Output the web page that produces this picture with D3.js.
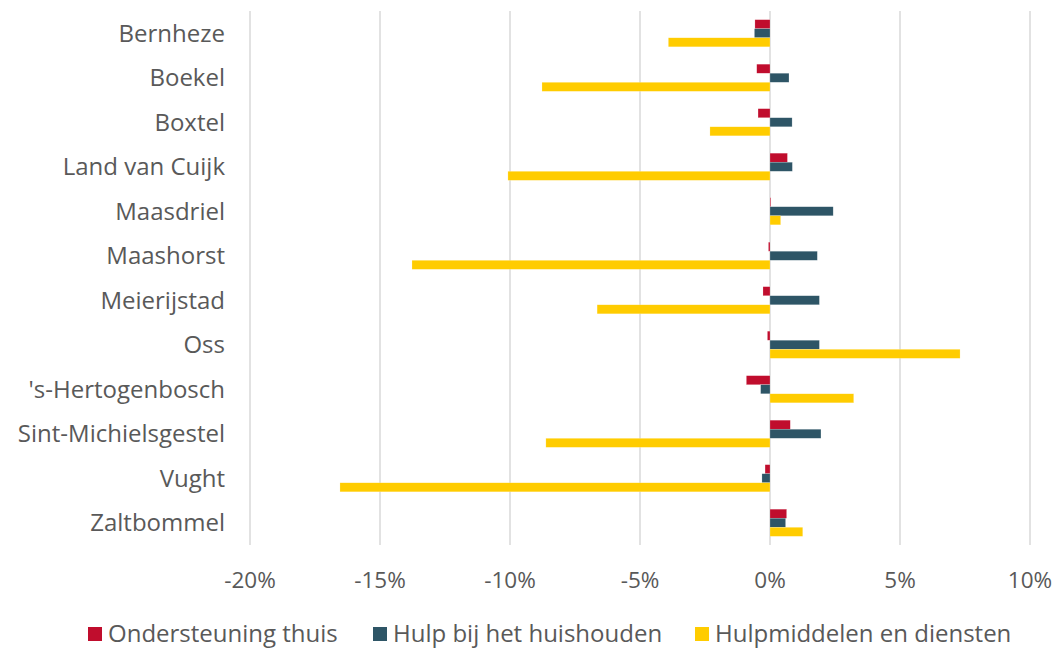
<!DOCTYPE html>
<html>
<head>
<meta charset="utf-8">
<script src="https://cdn.jsdelivr.net/npm/d3@7"></script>
<style>
  body { margin: 0; background: #fff; }
  text { font-family: "Open Sans", sans-serif; fill: #595959; }
</style>
</head>
<body>
<div id="chart"></div>
<script>
const width = 1059;
const height = 648;

// data
const gemeenten = ['Bernheze', 'Boekel', 'Boxtel', 'Land van Cuijk', 'Maasdriel', 'Maashorst',
    'Meierijstad', 'Oss', "'s-Hertogenbosch", 'Sint-Michielsgestel', 'Vught', 'Zaltbommel'];
const seriesNames = ['Ondersteuning thuis', 'Hulp bij het huishouden', 'Hulpmiddelen en diensten'];
const ondersteuning = [-0.58, -0.51, -0.46, 0.67, 0.03, -0.06, -0.27, -0.10, -0.91, 0.78, -0.19, 0.64];
const huishouden = [-0.60, 0.73, 0.85, 0.86, 2.43, 1.82, 1.90, 1.90, -0.36, 1.96, -0.31, 0.60];
const hulpmiddelen = [-3.91, -8.77, -2.31, -10.08, 0.41, -13.77, -6.65, 7.31, 3.22, -8.62, -16.54, 1.26];
const xTicks = [-20, -15, -10, -5, 0, 5, 10];
const colors = ['#c00d2d', '#2e5566', '#ffcc00'];

const seriesValues = [ondersteuning, huishouden, hulpmiddelen];

const margin = { top: 11, right: 29, bottom: 103, left: 250 };

const svg = d3.select('#chart')
    .append('svg')
    .attr('width', width)
    .attr('height', height);

const x = d3.scaleLinear()
    .domain([-20, 10])
    .range([margin.left, width - margin.right]);

const y = d3.scaleBand()
    .domain(gemeenten)
    .range([margin.top, height - margin.bottom])
    .paddingInner(0.39)
    .paddingOuter(0.195);

const inner = d3.scaleBand()
    .domain(d3.range(seriesNames.length))
    .range([0, y.bandwidth()]);

// gridlines
svg.append('g')
    .selectAll('line')
    .data(xTicks)
    .enter()
    .append('line')
    .attr('x1', d => x(d))
    .attr('x2', d => x(d))
    .attr('y1', margin.top)
    .attr('y2', height - margin.bottom)
    .attr('stroke', '#d9d9d9')
    .attr('stroke-width', 1.5);

// bars
seriesValues.forEach((vals, s) => {
    svg.append('g')
        .selectAll('rect')
        .data(vals)
        .enter()
        .append('rect')
        .attr('x', d => x(Math.min(0, d)))
        .attr('width', d => Math.abs(x(d) - x(0)))
        .attr('y', (d, i) => y(gemeenten[i]) + inner(s))
        .attr('height', inner.bandwidth())
        .attr('fill', colors[s])
        .attr('stroke', '#fff')
        .attr('stroke-opacity', 0.4)
        .attr('stroke-width', 0.5);
});

// category labels
svg.append('g')
    .selectAll('text')
    .data(gemeenten)
    .enter()
    .append('text')
    .attr('x', margin.left - 25)
    .attr('y', d => y(d) + y.bandwidth() / 2)
    .attr('dy', '0.35em')
    .attr('text-anchor', 'end')
    .style('font-size', '24px')
    .text(d => d);

// x axis labels
svg.append('g')
    .selectAll('text')
    .data(xTicks)
    .enter()
    .append('text')
    .attr('x', d => x(d))
    .attr('y', 580)
    .attr('dy', '0.35em')
    .attr('text-anchor', 'middle')
    .style('font-size', '22.5px')
    .text(d => d + '%');

// legend
const legendX = [88, 373, 695];
const legend = svg.append('g')
    .selectAll('g')
    .data(seriesNames)
    .enter()
    .append('g')
    .attr('transform', (d, i) => `translate(${legendX[i]},634)`);

legend.append('rect')
    .attr('x', 0)
    .attr('y', -7)
    .attr('width', 14)
    .attr('height', 14)
    .attr('fill', (d, i) => colors[i]);

legend.append('text')
    .attr('x', 20)
    .attr('y', 0)
    .attr('dy', '0.35em')
    .style('font-size', '24px')
    .text(d => d);
</script>
</body>
</html>
